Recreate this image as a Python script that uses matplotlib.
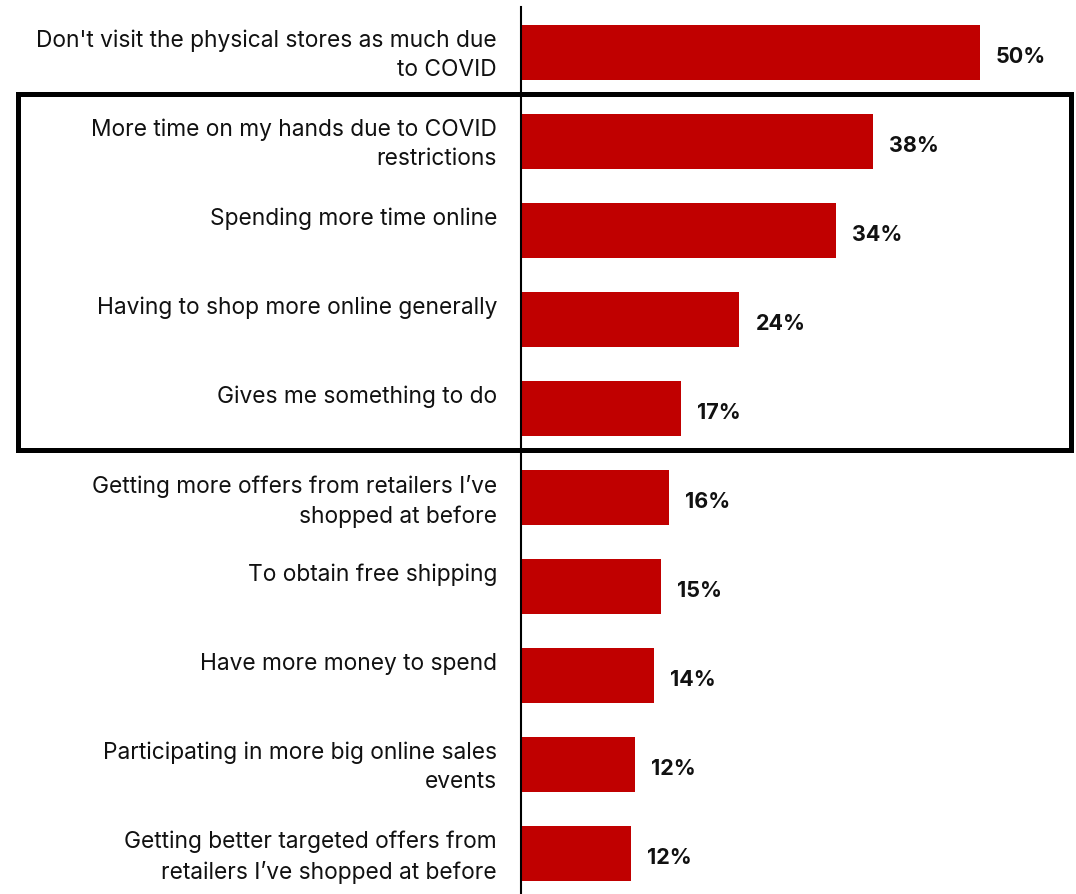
import matplotlib.pyplot as plt
from matplotlib.patches import Rectangle

labels = [
    "Don't visit the physical stores as much due\nto COVID",
    "More time on my hands due to COVID\nrestrictions",
    "Spending more time online",
    "Having to shop more online generally",
    "Gives me something to do",
    "Getting more offers from retailers I\u2019ve\nshopped at before",
    "To obtain free shipping",
    "Have more money to spend",
    "Participating in more big online sales\nevents",
    "Getting better targeted offers from\nretailers I\u2019ve shopped at before",
]
values = [50.0, 38.4, 34.3, 23.8, 17.4, 16.1, 15.3, 14.5, 12.4, 12.0]

bar_color = "#C00000"
plt.rcParams['font.family'] = ['Inter', 'DejaVu Sans']

fig = plt.figure(figsize=(10.76, 8.94), dpi=100)
ax = fig.add_axes([521 / 1076, 0, 555 / 1076, 886.5 / 894])

y = list(range(len(values)))
ax.barh(y, values, height=0.613, color=bar_color)
ax.set_xlim(0, 60.46)
ax.set_ylim(9.457, -0.506)

for s in ['top', 'right', 'bottom']:
    ax.spines[s].set_visible(False)
ax.spines['left'].set_linewidth(1.5)
ax.set_xticks([])
ax.set_yticks([])

for i, (lab, v) in enumerate(zip(labels, values)):
    ax.annotate(lab, xy=(0, i - 0.255), xytext=(-24 * 0.72, 0), textcoords='offset points',
                ha='right', va='top', fontsize=16.4, color='#111111',
                linespacing=1.42, annotation_clip=False)
    ax.annotate(f"{v:.0f}%", xy=(v, i), xytext=(16 * 0.72, -3.2), textcoords='offset points',
                ha='left', va='center', fontsize=15.5, fontweight='bold', color='#111111')

# highlight box around the COVID-related reasons
fig.add_artist(Rectangle((18 / 1076, 1 - 450.5 / 894), (1071 - 18) / 1076, (450.5 - 93.5) / 894,
                         transform=fig.transFigure, fill=False, edgecolor='black', linewidth=3.6))

fig.savefig("out.png", dpi=100)
